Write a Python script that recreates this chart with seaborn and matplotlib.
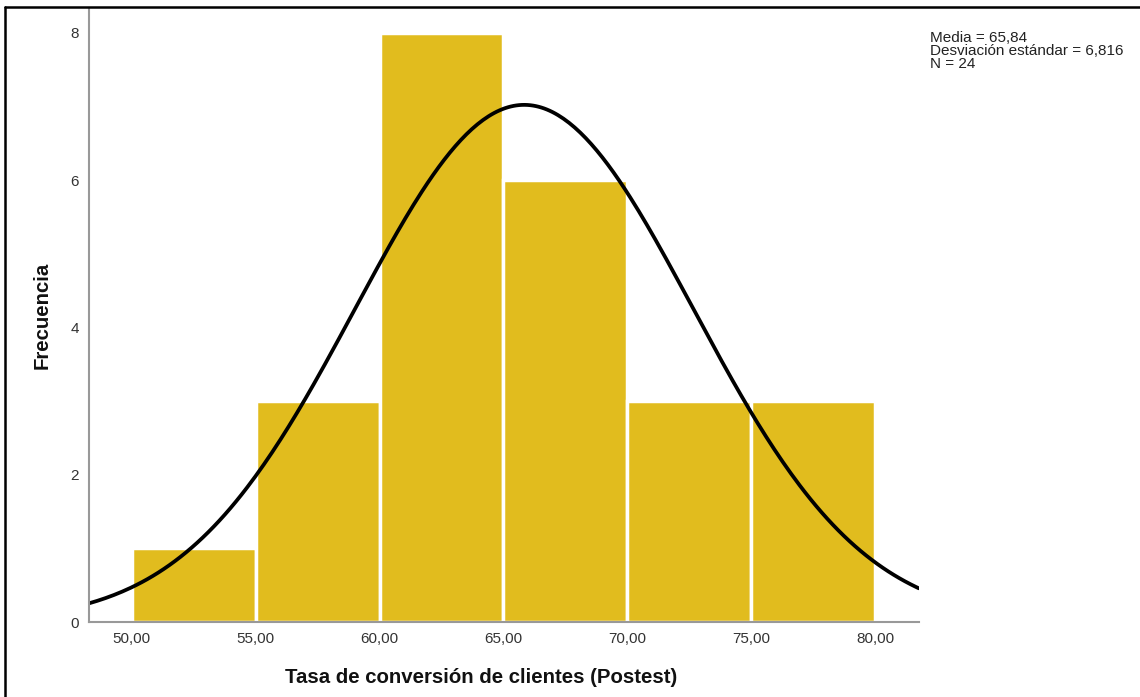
import matplotlib
matplotlib.use("Agg")
import matplotlib.pyplot as plt
import numpy as np
import seaborn as sns
from matplotlib.lines import Line2D

# bins
bin_edges = [50, 55, 60, 65, 70, 75, 80]
counts = [1, 3, 8, 6, 3, 3]
xticks = [50, 55, 60, 65, 70, 75, 80]
yticks = [0, 2, 4, 6, 8]
media = 65.84
desv = 6.816
n = 24

centers = [(a + b) / 2 for a, b in zip(bin_edges[:-1], bin_edges[1:])]

sns.set_style("white")
plt.rcParams['font.family'] = ['Liberation Sans', 'DejaVu Sans']

fig = plt.figure(figsize=(11.4, 6.97), dpi=100)
ax = fig.add_axes([0.078, 0.1076, 0.728, 0.881])

sns.histplot(x=centers, weights=counts, bins=bin_edges, color='#E1BC1E',
             edgecolor='white', linewidth=2.5, alpha=1, ax=ax)

# normal curve scaled to counts
xlim = (48.27, 81.77)
xs = np.linspace(xlim[0], xlim[1], 300)
ys = n * 5 * np.exp(-0.5 * ((xs - media) / desv) ** 2) / (desv * np.sqrt(2 * np.pi))
sns.lineplot(x=xs, y=ys, color='black', linewidth=2.7, ax=ax)

ax.set_xlim(*xlim)
ax.set_ylim(0, 8.34)
ax.set_xticks(xticks)
ax.set_xticklabels([f"{v:.2f}".replace('.', ',') for v in xticks])
ax.set_yticks(yticks)
ax.tick_params(axis='both', length=0, labelsize=11, colors='#333333', pad=7)
for s in ['top', 'right']:
    ax.spines[s].set_visible(False)
for s in ['left', 'bottom']:
    ax.spines[s].set_color('#999999')
    ax.spines[s].set_linewidth(1.5)

ax.set_xlabel('Tasa de conversión de clientes (Postest)', fontsize=14.7,
              fontweight='bold', color='#111111')
ax.xaxis.set_label_coords(0.473, -0.075)
ax.set_ylabel('Frecuencia', fontsize=14.7, fontweight='bold', color='#111111')
ax.yaxis.set_label_coords(-0.045, 0.5)

fig.text(0.816, 0.955,
         f"Media = {media:.2f}\nDesviación estándar = {desv:.3f}\nN = {n}".replace('.', ','),
         fontsize=11, va='top', ha='left', linespacing=0.9, color='#222222')

# outer frame (top and left only)
fig.add_artist(Line2D([5 / 1140, 1], [1 - 7 / 697, 1 - 7 / 697], color='black', linewidth=1.8))
fig.add_artist(Line2D([5 / 1140, 5 / 1140], [0, 1 - 7 / 697], color='black', linewidth=1.8))

fig.savefig('out.png', dpi=100)
